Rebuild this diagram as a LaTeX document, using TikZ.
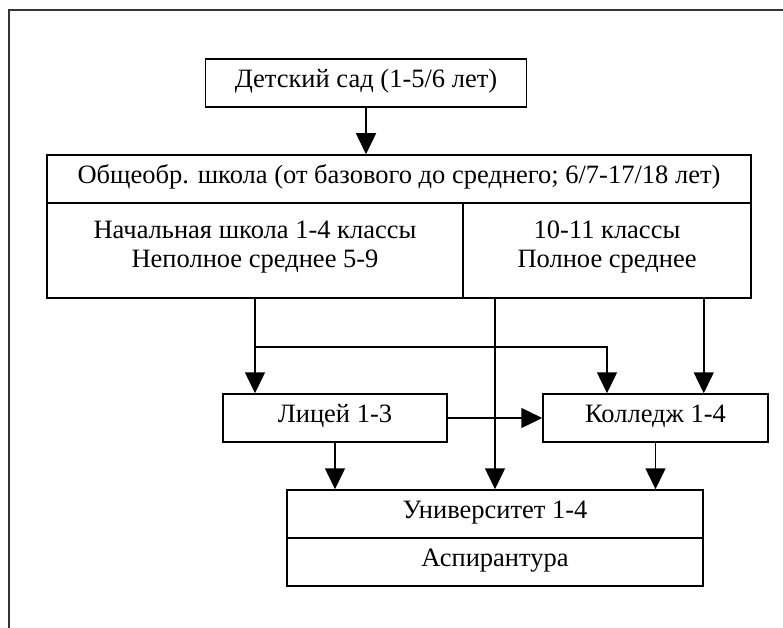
\documentclass[tikz,border=0pt]{standalone}
\usepackage{fontspec}
\setmainfont{Liberation Serif}
\usetikzlibrary{arrows.meta,calc}
\begin{document}
\begin{tikzpicture}[x=1pt,y=-1pt,
  every node/.style={font=\fontsize{26.5}{29}\selectfont},
  box/.style={draw,line width=1.5pt,rectangle,inner sep=0pt,minimum height=48pt,
    text height=28.5pt,text depth=19.5pt,align=center},
  cell/.style={draw,line width=1.5pt,rectangle,inner sep=0pt,minimum height=95pt},
  txt/.style={inner sep=0pt,anchor=base},
  arr/.style={line width=1.5pt,-{Triangle[length=21pt,width=20pt]}}]
\useasboundingbox (0,0) rectangle (783,628);
\draw[line width=1.1pt,black!80] (9,640) -- (9,10) -- (800,10);
% boxes
\node[box,minimum width=321pt] (kg) at (366,83) {Детский сад (1-5/6 лет)};
\node[box,minimum width=704pt] (hdr) at (399,179) {Общеобр. школа (от базового до среднего; 6/7-17/18 лет)};
\node[cell,minimum width=416pt] (lc) at (255,250.5) {};
\node[cell,minimum width=288pt] (rc) at (607,250.5) {};
\node[txt] (lc1) at (255,238) {Начальная школа 1-4 классы};
\node[txt] (lc2) at (255,267.5) {Неполное среднее 5-9};
\node[txt] (rc1) at (607,238) {10-11 классы};
\node[txt] (rc2) at (607,267.5) {Полное среднее};
\node[box,minimum width=224pt] (ly) at (335,418) {Лицей 1-3};
\node[box,minimum width=225pt] (co) at (655.5,418) {Колледж 1-4};
\node[box,minimum width=416pt] (un) at (495,514) {Университет 1-4};
\node[box,minimum width=416pt] (asp) at (495,562) {Аспирантура};
% connectors
\coordinate (br) at ($(lc.south)+(0,48)$);
\draw[arr] (kg.south) -- (kg.south |- hdr.north);
\draw[arr] (lc.south) -- (lc.south |- ly.north);
\draw[arr] (br) -| (rc.south |- co.north);
\draw[arr] (rc.south -| un.north) -- (un.north);
\draw[arr] (rc.south -| un.north east) -- (co.north -| un.north east);
\draw[arr] (ly.east) -- (co.west);
\draw[arr] (ly.south) -- (ly.south |- un.north);
\draw[arr] (co.south) -- (co.south |- un.north);
\end{tikzpicture}
\end{document}
